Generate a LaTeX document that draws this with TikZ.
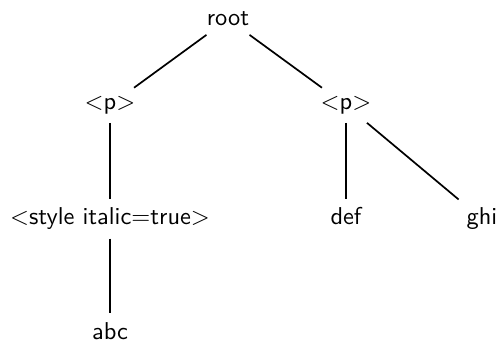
\documentclass[tikz,border=0pt]{standalone}
\begin{document}
\begin{tikzpicture}[x=0.41pt,y=-0.41pt,
  treenode/.style={font=\sffamily, inner sep=0.3333em, anchor=base},
  edge/.style={line width=0.7pt}]
\useasboundingbox (0,0) rectangle (499,340);
\node[treenode] (root) at (228,26) {root};
\node[treenode] (p1) at (110,109.5) {<p>};
\node[treenode] (p2) at (346,109.5) {<p>};
\node[treenode] (sty) at (110,225) {<style italic=true>};
\node[treenode] (abc) at (110,339) {abc};
\node[treenode] (def) at (346,225) {def};
\node[treenode] (ghi) at (482,225) {ghi};
\draw[edge] (root) -- (p1);
\draw[edge] (root) -- (p2);
\draw[edge] (p1) -- (sty);
\draw[edge] (sty) -- (abc);
\draw[edge] (p2) -- (def);
\draw[edge] (p2) -- (ghi);
\end{tikzpicture}
\end{document}
